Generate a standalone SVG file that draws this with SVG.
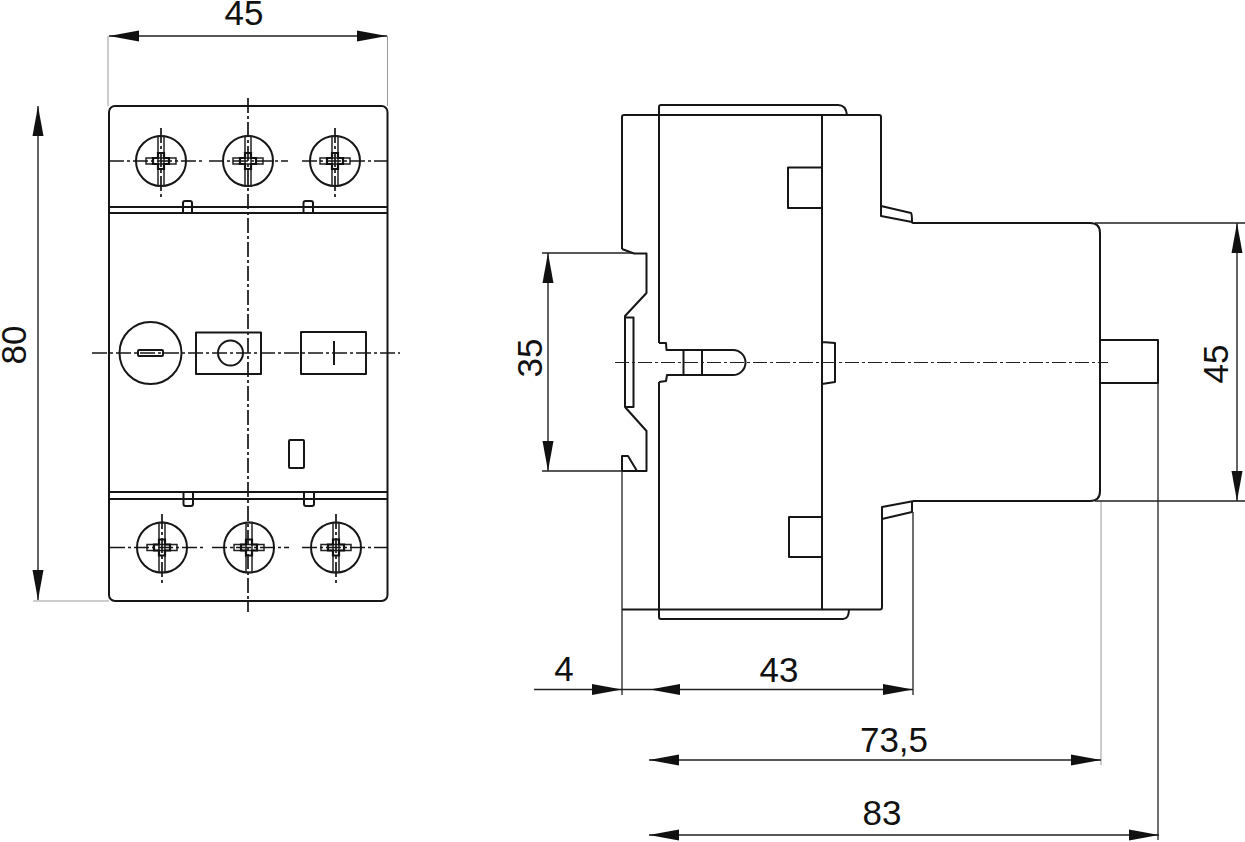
<svg xmlns="http://www.w3.org/2000/svg" width="1245" height="842" viewBox="0 0 1245 842">
<style>
.o{fill:none;stroke:#161616;stroke-width:2;stroke-linejoin:round}
.s{fill:none;stroke:#222;stroke-width:1.5}
.h{fill:none;stroke:#111;stroke-width:2.2}
.l{fill:none;stroke:#999;stroke-width:1}
.t{fill:none;stroke:#222;stroke-width:1.3}
.d{fill:none;stroke:#222;stroke-width:1.4}
.c{fill:none;stroke:#161616;stroke-width:1.7;stroke-dasharray:15 3 3 3}
.c2{fill:none;stroke:#222;stroke-width:1.2;stroke-dasharray:14 3 3 3}
text{font-family:"Liberation Sans",Arial,sans-serif;font-size:35px;fill:#111;text-anchor:middle}
</style>
<defs>
<polygon id="a" points="0,0 -30,-5.500 -30,5.500" fill="#111"/>
<g id="sc">
<circle r="25" class="o"/>
<rect x="-3" y="-25" width="6" height="50" class="s"/>
<rect x="-15" y="-3" width="30" height="6" class="s"/>
<path class="h" d="M-8,-3H-3V-8H3V-3H8V3H3V8H-3V3H-8Z"/>
</g>
</defs>
<rect width="1245" height="842" fill="#fff"/>
<g id="front-view">
<rect x="109" y="106" width="278.500" height="495" rx="6" class="o"/>
<path class="o" d="M109,207H387M109,213H387M109,492H387M109,499H387"/>
<path class="o" d="M183,213V203Q183,201 185,201H190Q192,201 192,203V213M303.500,213V203Q303.500,201 305.500,201H311Q313,201 313,203V213"/>
<path class="o" d="M183.500,492V504Q183.500,506 185.500,506H191Q193,506 193,504V492M304,492V504Q304,506 306,506H312Q314,506 314,504V492"/>
</g>
<g id="screws-top">
<use href="#sc" x="161" y="161"/><use href="#sc" x="248" y="161"/><use href="#sc" x="335" y="161"/>
</g>
<g id="screws-bottom">
<use href="#sc" x="162" y="547.500"/><use href="#sc" x="249" y="547.500"/><use href="#sc" x="336" y="547.500"/>
</g>
<g id="controls">
<circle cx="150.500" cy="353" r="31" class="o"/>
<rect x="138" y="350" width="25" height="6" rx="1" class="o"/>
<rect x="196" y="332.500" width="65" height="41.500" class="o"/>
<circle cx="230.500" cy="353" r="12.500" class="o"/>
<rect x="301" y="332" width="65" height="42" class="o"/>
<path class="o" d="M334,341V365"/>
<rect x="289" y="440" width="15" height="28" rx="1" class="o"/>
</g>
<g id="side-view">
<path class="o" d="M622,249V117Q622,115 624,115H879Q881,115 881,117V206L911,213Q912,214 912,222Q912,223 914,223H1090Q1100,223 1100,233V491Q1100,501 1090,501H914L882,507V607Q882,609.500 880,609.500H622"/>
<path class="o" d="M881,206V216L912,222M882,507V519L912,512V502"/>
<path class="o" d="M659,343V107Q659,105 661,105H838Q846,105 847,115M659,382V617Q659,619 661,619H843Q849,619 849,609"/>
<path class="o" d="M822,115V609M822,342L835,343V382L822,384"/>
<path class="o" d="M822,167.500H788V208H822M822,517H789V557H822"/>
<path class="o" d="M659,343H666L666.500,350H733A12.500,12.500 0 0 1 733,375H667L666,381L659,382M683.500,350V375M702,350V375"/>
<path class="o" d="M622,249L634,253.500H646.500V293L625,316V407L646.500,431V471H622M625,317.500H633.500V407H625"/>
<path class="o" d="M622,471V456H628L637,471"/>
<path class="o" d="M1100,340H1158V383H1100"/>
</g>
<g id="connectors">
<path class="c" d="M248,98V612M92,353H400M109,161H203M209,161H288M302,161H387M110,547.500H204M212,547.500H289M302,547.500H388M161,128V198M335,128V198M162,514V585M336,514V585"/>
<path class="c2" d="M615,362.500H1108"/>
<path class="l" d="M108,36V106M387.500,36V106M33,601H109M1101,501V765"/>
<path class="t" d="M542,253H634M542,471H622M1095,223H1245M1095,501H1245M622,471V695M913,512V695M1158,383V840"/>
<path class="d" d="M109,36H387M38,106V600M548,253V471M1237,223V501M534,689.500H913M649,760H1101M649,835H1159"/>
<use href="#a" transform="translate(109,36) rotate(180)"/><use href="#a" transform="translate(387,36)"/>
<use href="#a" transform="translate(38,106) rotate(-90)"/><use href="#a" transform="translate(38,600) rotate(90)"/>
<use href="#a" transform="translate(548,253) rotate(-90)"/><use href="#a" transform="translate(548,471) rotate(90)"/>
<use href="#a" transform="translate(1237,223) rotate(-90)"/><use href="#a" transform="translate(1237,501) rotate(90)"/>
<use href="#a" transform="translate(622,689.500)"/><use href="#a" transform="translate(650,689.500) rotate(180)"/><use href="#a" transform="translate(913,689.500)"/>
<use href="#a" transform="translate(649,760) rotate(180)"/><use href="#a" transform="translate(1101,760)"/>
<use href="#a" transform="translate(649,835) rotate(180)"/><use href="#a" transform="translate(1159,835)"/>
</g>
<g id="labels">
<text x="244" y="25">45</text>
<text transform="translate(26,345) rotate(-90)">80</text>
<text transform="translate(542,358) rotate(-90)">35</text>
<text transform="translate(1228,364) rotate(-90)">45</text>
<text x="564" y="681">4</text>
<text x="779" y="682">43</text>
<text x="894" y="752">73,5</text>
<text x="882" y="825">83</text>
</g>
</svg>
